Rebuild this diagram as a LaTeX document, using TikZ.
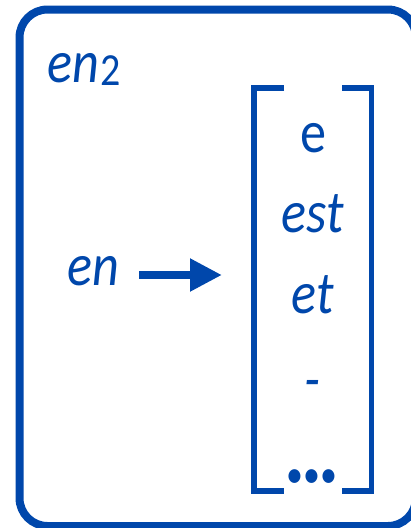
\documentclass[tikz,border=0pt]{standalone}
\usepackage{fontspec}
\setmainfont[FakeStretch=0.87]{Carlito}
\usetikzlibrary{arrows.meta}
\definecolor{cblue}{RGB}{0,71,171}
\begin{document}
\begin{tikzpicture}[x=1pt,y=-1pt,
  txt/.style={text=cblue, inner sep=0pt, anchor=base, font=\fontsize{60}{60}\selectfont},
  frame/.style={draw=cblue, line width=8pt, rounded corners=28pt},
  brk/.style={draw=cblue, line width=5.5pt, line join=miter},
  conn/.style={draw=cblue, line width=8pt, -{Triangle[length=32pt,width=31pt]}}]
\useasboundingbox (0,0) rectangle (411,528);
\begin{scope}
  \clip (0,0) rectangle (411,528);
  \draw[frame] (19.5,9.5) rectangle (416,526);
\end{scope}
\node[txt, anchor=base west] (title) at (47,82) {\textit{en}\hspace{2pt}\raisebox{-3pt}{\fontsize{46}{46}\selectfont 2}};
\node[txt, anchor=base west] (src) at (67,285) {\textit{en}};
\coordinate (a1) at (139,275);
\coordinate (a2) at (222,275);
\draw[conn] (a1) -- (a2);
\draw[brk] (284,88) -- (254,88) -- (254,491) -- (284,491);
\draw[brk] (342,88) -- (371.5,88) -- (371.5,491) -- (342,491);
\node[txt] (v1) at (313,152) {e};
\node[txt] (v2) at (313,232) {\textit{est}};
\node[txt] (v3) at (313,313) {\textit{et}};
\node[txt] (v4) at (312,399) {\textit{-}};
\node[txt, font=\fontsize{39}{39}\selectfont] (v5) at (312,487) {•••};
\end{tikzpicture}
\end{document}
